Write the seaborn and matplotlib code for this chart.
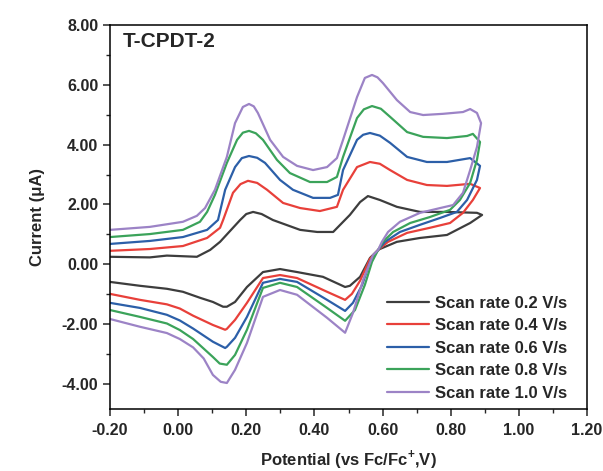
import pandas as pd
import matplotlib.pyplot as plt
import seaborn as sns
from matplotlib.ticker import MultipleLocator, FormatStrFormatter

# potentials (V vs Fc/Fc+) and currents (uA)
# each list runs: forward sweep -0.2 -> 0.9 V, then back to -0.2 V
e_02 = [-0.200, -0.083, -0.033, 0.055, 0.094, 0.123, 0.182, 0.200, 0.220, 0.245, 0.278, 0.358,
        0.408, 0.455, 0.504, 0.534, 0.557, 0.592, 0.642, 0.710, 0.789, 0.877, 0.892,
        0.857, 0.789, 0.710, 0.642, 0.592, 0.587, 0.563, 0.534, 0.504, 0.490, 0.425, 0.349,
        0.299, 0.249, 0.202, 0.167, 0.143, 0.132, 0.102, 0.064, 0.014, -0.033, -0.112, -0.200]
i_02 = [0.25, 0.23, 0.29, 0.25, 0.48, 0.75, 1.48, 1.68, 1.75, 1.68, 1.48, 1.15,
        1.08, 1.08, 1.65, 2.08, 2.28, 2.15, 1.92, 1.75, 1.75, 1.72, 1.65,
        1.38, 0.98, 0.88, 0.75, 0.51, 0.48, 0.21, -0.42, -0.72, -0.76, -0.42, -0.26,
        -0.16, -0.26, -0.76, -1.26, -1.42, -1.42, -1.26, -1.12, -0.92, -0.82, -0.72, -0.59]

e_04 = [-0.200, -0.083, 0.014, 0.085, 0.123, 0.132, 0.161, 0.183, 0.205, 0.232, 0.261, 0.308,
        0.358, 0.416, 0.466, 0.484, 0.525, 0.563, 0.592, 0.622, 0.672, 0.730, 0.789, 0.857, 0.886,
        0.865, 0.836, 0.798, 0.739, 0.672, 0.616, 0.587, 0.563, 0.534, 0.510, 0.490, 0.437,
        0.349, 0.299, 0.249, 0.202, 0.167, 0.143, 0.138, 0.102, 0.044, 0.005, -0.033, -0.112, -0.200]
i_04 = [0.45, 0.51, 0.61, 0.88, 1.22, 1.48, 2.39, 2.68, 2.79, 2.72, 2.49, 2.05,
        1.88, 1.78, 1.92, 2.49, 3.25, 3.42, 3.36, 3.15, 2.82, 2.65, 2.62, 2.69, 2.55,
        2.15, 1.72, 1.38, 1.22, 1.05, 0.75, 0.48, 0.18, -0.55, -0.99, -1.19, -0.92,
        -0.46, -0.36, -0.46, -1.29, -1.86, -2.16, -2.19, -2.03, -1.72, -1.48, -1.34, -1.19, -0.99]

e_06 = [-0.200, -0.083, 0.014, 0.085, 0.117, 0.138, 0.167, 0.187, 0.208, 0.232, 0.255, 0.299,
        0.337, 0.396, 0.446, 0.469, 0.484, 0.525, 0.543, 0.563, 0.592, 0.622, 0.672, 0.730,
        0.789, 0.857, 0.886,
        0.877, 0.848, 0.818, 0.769, 0.710, 0.651, 0.607, 0.587, 0.563, 0.540, 0.513, 0.490,
        0.437, 0.349, 0.299, 0.249, 0.202, 0.167, 0.143, 0.138, 0.102, 0.044, 0.005, -0.033,
        -0.112, -0.200]
i_06 = [0.68, 0.78, 0.91, 1.15, 1.48, 2.49, 3.25, 3.55, 3.62, 3.56, 3.39, 2.82,
        2.49, 2.22, 2.22, 2.32, 3.15, 4.16, 4.33, 4.39, 4.30, 4.06, 3.59, 3.42,
        3.42, 3.55, 3.29,
        2.82, 2.15, 1.75, 1.55, 1.32, 1.08, 0.75, 0.48, 0.08, -0.69, -1.29, -1.56,
        -1.19, -0.59, -0.49, -0.62, -1.76, -2.46, -2.76, -2.80, -2.59, -2.15, -1.88, -1.69,
        -1.46, -1.29]

e_08 = [-0.200, -0.083, 0.014, 0.064, 0.085, 0.108, 0.143, 0.173, 0.190, 0.208, 0.228, 0.249,
        0.290, 0.328, 0.387, 0.437, 0.466, 0.484, 0.525, 0.545, 0.569, 0.595, 0.622, 0.672,
        0.719, 0.789, 0.848, 0.865, 0.886,
        0.877, 0.857, 0.827, 0.798, 0.739, 0.681, 0.631, 0.601, 0.587, 0.569, 0.548, 0.519,
        0.490, 0.437, 0.349, 0.299, 0.249, 0.202, 0.167, 0.143, 0.122, 0.102, 0.044, 0.005,
        -0.033, -0.112, -0.200]
i_08 = [0.91, 1.01, 1.15, 1.42, 1.75, 2.32, 3.39, 4.16, 4.40, 4.46, 4.38, 4.16,
        3.49, 3.05, 2.75, 2.75, 2.92, 3.59, 4.89, 5.18, 5.29, 5.20, 4.93, 4.42,
        4.26, 4.22, 4.29, 4.36, 4.09,
        3.49, 2.72, 2.15, 1.82, 1.58, 1.38, 1.08, 0.75, 0.48, 0.08, -0.69, -1.53,
        -1.89, -1.46, -0.76, -0.62, -0.79, -2.19, -3.03, -3.36, -3.32, -3.10, -2.50, -2.20,
        -1.98, -1.76, -1.53]

e_10 = [-0.200, -0.083, 0.014, 0.055, 0.079, 0.108, 0.143, 0.167, 0.190, 0.208, 0.222, 0.234,
        0.270, 0.308, 0.349, 0.396, 0.437, 0.466, 0.484, 0.525, 0.548, 0.569, 0.585, 0.601,
        0.642, 0.681, 0.719, 0.777, 0.836, 0.857, 0.877, 0.889,
        0.877, 0.857, 0.836, 0.807, 0.769, 0.710, 0.651, 0.616, 0.598, 0.587, 0.572, 0.543,
        0.513, 0.490, 0.437, 0.349, 0.299, 0.249, 0.202, 0.167, 0.143, 0.125, 0.102, 0.075,
        0.044, 0.005, -0.033, -0.112, -0.200]
i_10 = [1.15, 1.25, 1.42, 1.62, 1.88, 2.49, 3.59, 4.72, 5.26, 5.36, 5.28, 5.06,
        4.16, 3.59, 3.29, 3.15, 3.25, 3.55, 4.16, 5.59, 6.23, 6.33, 6.25, 6.06,
        5.49, 5.09, 4.99, 5.03, 5.09, 5.19, 5.06, 4.72,
        3.92, 3.15, 2.39, 1.98, 1.88, 1.72, 1.42, 1.08, 0.75, 0.48, 0.31, -0.52,
        -1.63, -2.29, -1.79, -1.02, -0.86, -1.09, -2.63, -3.53, -3.97, -3.93, -3.70, -3.15,
        -2.78, -2.50, -2.30, -2.09, -1.83]

labels = ['Scan rate 0.2 V/s', 'Scan rate 0.4 V/s', 'Scan rate 0.6 V/s',
          'Scan rate 0.8 V/s', 'Scan rate 1.0 V/s']
colors = ['#3d3d3d', '#e8403a', '#2c5fa8', '#3ba35a', '#9c83c6']


def build_frame():
    frames = []
    for lab, e, i in zip(labels, [e_02, e_04, e_06, e_08, e_10],
                         [i_02, i_04, i_06, i_08, i_10]):
        frames.append(pd.DataFrame({'E': e, 'I': i, 'rate': lab}))
    return pd.concat(frames, ignore_index=True)


sns.set_theme(style="ticks")
plt.rcParams['font.family'] = ['Liberation Sans', 'DejaVu Sans']
plt.rcParams['font.weight'] = 'bold'
plt.rcParams['axes.unicode_minus'] = False
plt.rcParams['mathtext.fontset'] = 'custom'
plt.rcParams['mathtext.rm'] = 'Liberation Sans:bold'
plt.rcParams['mathtext.bf'] = 'Liberation Sans:bold'

data = build_frame()

fig = plt.figure(figsize=(6.03, 4.71), dpi=100)
ax = fig.add_axes([0.1824, 0.1316, 0.7911, 0.8153])

sns.lineplot(data=data, x='E', y='I', hue='rate', palette=colors, sort=False,
             estimator=None, linewidth=1.6, ax=ax)

ax.set_xlim(-0.2, 1.2)
ax.set_ylim(-4.84, 8.0)
ax.xaxis.set_major_locator(MultipleLocator(0.2))
ax.xaxis.set_minor_locator(MultipleLocator(0.1))
ax.yaxis.set_major_locator(MultipleLocator(2))
ax.yaxis.set_minor_locator(MultipleLocator(1))
ax.xaxis.set_major_formatter(FormatStrFormatter('%.2f'))
ax.yaxis.set_major_formatter(FormatStrFormatter('%.2f'))

for s in ax.spines.values():
    s.set_linewidth(1.1)
    s.set_color('black')
ax.tick_params(which='major', direction='out', length=5, width=1.1, labelsize=11.5)
ax.tick_params(axis='x', which='major', pad=5)
ax.tick_params(axis='y', which='major', pad=3.5)
ax.tick_params(which='minor', direction='out', length=3, width=1.0)

ax.set_xlabel('Potential (vs Fc/Fc$^{+}$,V)', fontsize=12, fontweight='bold', labelpad=7)
ax.set_ylabel('Current (\u03bcA)', fontsize=12, fontweight='bold', labelpad=12)

ax.text(0.027, 0.943, 'T-CPDT-2', transform=ax.transAxes, fontsize=15,
        fontweight='bold', va='baseline', ha='left')

handles, labs = ax.get_legend_handles_labels()
ax.legend(handles, labs, loc='lower right', bbox_to_anchor=(0.975, 0.0), frameon=False,
          handlelength=2.5, handletextpad=0.35, labelspacing=0.45, borderpad=0,
          prop={'weight': 'bold', 'size': 12})

fig.savefig('out.png', dpi=100)
